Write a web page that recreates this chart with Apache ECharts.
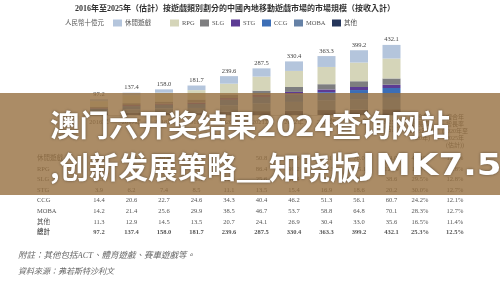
<!DOCTYPE html>
<html>
<head>
<meta charset="utf-8">
<script src="https://cdn.jsdelivr.net/npm/echarts@6/dist/echarts.min.js"></script>
<style>
  html, body { margin: 0; padding: 0; background: #fff; }
  #main { width: 500px; height: 289px; }
</style>
</head>
<body>
<div id="main"></div>
<script>
// 横轴年份
const years = ['2016年', '2017年', '2018年', '2019年', '2020年', '2021年', '2022年', '2023年', '2024年', '2025年\n(估計)'];
// 各类别收入（人民幣十億元）
const casual = [12.1, 15.6, 20.4, 28.3, 46.6, 50.8, 58.6, 67.1, 76.0, 84.0];
const rpg = [33.8, 48.8, 54.9, 58.4, 67.1, 86.4, 99.2, 106.3, 115.1, 122.9];
const slg = [7.5, 11.9, 12.5, 18.5, 21.3, 25.6, 30.4, 32.5, 35.6, 38.6];
const stg = [3.9, 6.2, 7.4, 8.5, 11.1, 13.5, 15.4, 16.9, 18.6, 20.2];
const ccg = [14.4, 20.6, 22.7, 24.6, 34.3, 40.4, 46.2, 51.3, 56.1, 60.7];
const moba = [14.2, 21.4, 25.6, 29.9, 38.5, 46.7, 53.7, 58.8, 64.8, 70.1];
const others = [11.3, 12.9, 14.5, 13.5, 20.7, 24.1, 26.9, 30.4, 33.0, 35.6];
const totals = [97.2, 137.4, 158.0, 181.7, 239.6, 287.5, 330.4, 363.3, 399.2, 432.1];
// 复合年增长率
const cagr1620 = ['40.1%', '18.7%', '29.5%', '30.0%', '24.2%', '28.3%', '16.5%', '25.3%'];
const cagr2025 = ['12.5%', '12.8%', '12.8%', '12.7%', '12.1%', '12.7%', '11.4%', '12.5%'];
const rowNames = ['休閒遊戲', 'RPG', 'SLG', 'STG', 'CCG', 'MOBA', '其他', '總計'];

const serifFont = '"Liberation Serif", "Noto Sans CJK TC", serif';
const bannerFont = '"Noto Sans CJK SC", sans-serif';
const colors = {
  '休閒遊戲': '#b4c5dc',
  'RPG': '#d5d5b9',
  'SLG': '#7e7e80',
  'STG': '#5c3b94',
  'CCG': '#3c6eb6',
  'MOBA': '#6581a6',
  '其他': '#25355a'
};
const legendLeft = [113, 170, 200, 231, 262, 294, 332];

let myChart = echarts.init(document.getElementById('main'));

// 堆叠顺序：自下而上
const stackOrder = [
  ['其他', others], ['MOBA', moba], ['CCG', ccg], ['STG', stg],
  ['SLG', slg], ['RPG', rpg], ['休閒遊戲', casual]
];

let series = stackOrder.map(function (item, idx) {
  let s = {
    name: item[0],
    type: 'bar',
    stack: 'total',
    barWidth: 18,
    itemStyle: { color: colors[item[0]] },
    data: item[1]
  };
  if (idx === stackOrder.length - 1) {
    // 顶部显示总计
    s.label = {
      show: true,
      position: 'top',
      distance: 2,
      fontSize: 6.5,
      color: '#444',
      fontFamily: serifFont,
      formatter: function (p) {
        return totals[p.dataIndex].toFixed(1);
      }
    };
  }
  return s;
});

let legends = rowNames.slice(0, 7).map(function (name, i) {
  return {
    data: [name],
    left: legendLeft[i],
    top: 19.5,
    padding: 0,
    itemWidth: 9,
    itemHeight: 7,
    icon: 'rect',
    itemStyle: { borderWidth: 0 },
    textStyle: { fontSize: 6.5, color: '#555', fontFamily: serifFont, padding: [0, 0, 0, -2] }
  };
});

let option = {
  animation: false,
  title: {
    text: '2016年至2025年（估計）按遊戲類別劃分的中國內地移動遊戲市場的市場規模（按收入計）',
    left: 75,
    top: 5,
    padding: 0,
    textStyle: { fontSize: 8, fontWeight: 'bold', color: '#333', fontFamily: serifFont }
  },
  legend: legends,
  grid: { left: 82.75, width: 325, top: 42, height: 73 },
  xAxis: {
    type: 'category',
    data: years,
    axisLine: { show: true, lineStyle: { color: '#999', width: 0.5 } },
    axisTick: { show: false },
    axisLabel: { fontSize: 6.5, color: '#555', margin: 4, lineHeight: 7, fontFamily: serifFont }
  },
  yAxis: { type: 'value', min: 0, max: 450, show: false },
  series: series
};
myChart.setOption(option);

// 用坐标轴换算表格列的位置
let colX = years.map(function (y, i) {
  return myChart.convertToPixel({ xAxisIndex: 0 }, i);
});
const rowY = [158, 169, 179, 190, 200, 211, 222, 232];
const rowData = [casual, rpg, slg, stg, ccg, moba, others, totals];

let graphic = [];
rowNames.forEach(function (name, r) {
  let bold = r === rowNames.length - 1 ? 'bold' : 'normal';
  let style = { fontSize: 6.5, fill: '#555', fontFamily: serifFont, fontWeight: bold, verticalAlign: 'middle' };
  graphic.push({ type: 'text', x: 37, y: rowY[r], style: Object.assign({ text: name, align: 'left' }, style) });
  rowData[r].forEach(function (v, c) {
    graphic.push({ type: 'text', x: colX[c], y: rowY[r], style: Object.assign({ text: v.toFixed(1), align: 'center' }, style) });
  });
  graphic.push({ type: 'text', x: 420, y: rowY[r], style: Object.assign({ text: cagr1620[r], align: 'center' }, style) });
  graphic.push({ type: 'text', x: 455, y: rowY[r], style: Object.assign({ text: cagr2025[r], align: 'center' }, style) });
});
// 表头
graphic.push({ type: 'text', x: 420, y: 114, style: { text: '複合年\n增長率\n(2016年至\n2020年)', align: 'center', fontSize: 6, lineHeight: 7, fill: '#555', fontFamily: serifFont } });
graphic.push({ type: 'text', x: 455, y: 114, style: { text: '複合年\n增長率\n(2020年至\n2025年\n(估計))', align: 'center', fontSize: 6, lineHeight: 7, fill: '#555', fontFamily: serifFont } });
// 单位
graphic.push({ type: 'text', x: 65, y: 23, style: { text: '人民幣十億元', fontSize: 6.5, fill: '#555', fontFamily: serifFont, verticalAlign: 'middle' } });
// 附注
graphic.push({ type: 'text', x: 18, y: 256, style: { text: '附註：其他包括ACT、體育遊戲、賽車遊戲等。', fontSize: 8.5, fill: '#666', fontStyle: 'italic', fontFamily: serifFont, verticalAlign: 'middle' } });
graphic.push({ type: 'text', x: 18, y: 272, style: { text: '資料來源：弗若斯特沙利文', fontSize: 8, fill: '#666', fontStyle: 'italic', fontFamily: serifFont, verticalAlign: 'middle' } });

// 遮罩横幅
graphic.push({ type: 'rect', z: 100, shape: { x: 0, y: 93, width: 500, height: 102 }, style: { fill: 'rgba(150,111,64,0.8)' } });
function bannerText(text, x, y, size, sx, family) {
  return {
    type: 'text', z: 101, x: x, y: y, scaleX: sx || 1,
    style: {
      text: text, fontSize: size, fontWeight: 'bold', fill: '#fff',
      fontFamily: family || bannerFont, verticalAlign: 'middle',
      textShadowColor: 'rgba(0,0,0,0.45)', textShadowBlur: 3
    }
  };
}
graphic.push(bannerText('澳门六开奖结果', 50, 124.5, 29.5));
graphic.push(bannerText('2024', 257, 124.5, 29.5, 1.1));
graphic.push(bannerText('查询网站', 332, 124.5, 29.5));
graphic.push(bannerText(',创新发展策略', 50, 167, 29.5));
graphic.push(bannerText('_', 236, 167, 29.5, 2.1));
graphic.push(bannerText('知晓版', 269, 167, 30.5));
graphic.push(bannerText('JMK7.5', 362, 167, 30, 1.19, '"DejaVu Sans", sans-serif'));

myChart.setOption({ graphic: graphic });
</script>
</body>
</html>
